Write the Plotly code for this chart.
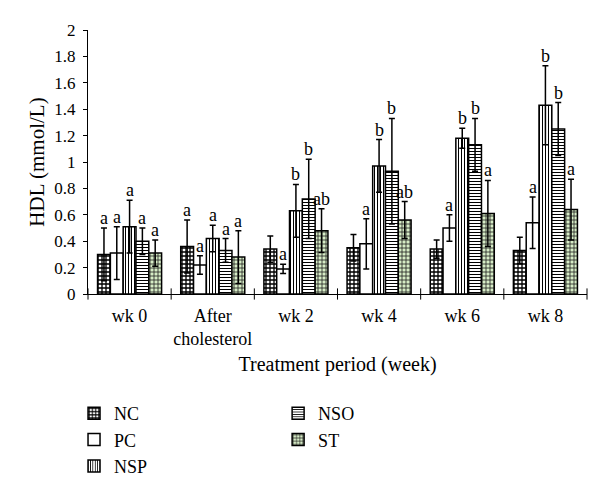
import plotly.graph_objects as go

categories = ["wk 0", "After<br>cholesterol", "wk 2", "wk 4", "wk 6", "wk 8"]
groups = ["NC", "PC", "NSP", "NSO", "ST"]

nc = [0.30, 0.36, 0.34, 0.35, 0.34, 0.33]
pc = [0.31, 0.22, 0.19, 0.38, 0.50, 0.54]
nsp = [0.51, 0.42, 0.63, 0.97, 1.18, 1.43]
nso = [0.40, 0.33, 0.72, 0.93, 1.13, 1.25]
st = [0.31, 0.28, 0.48, 0.56, 0.61, 0.64]

nc_sd = [0.20, 0.20, 0.10, 0.10, 0.07, 0.10]
pc_sd = [0.20, 0.07, 0.035, 0.19, 0.10, 0.195]
nsp_sd = [0.20, 0.10, 0.20, 0.20, 0.075, 0.30]
nso_sd = [0.10, 0.09, 0.30, 0.40, 0.20, 0.20]
st_sd = [0.10, 0.20, 0.165, 0.14, 0.25, 0.23]

nc_lbl = ["a", "a", "", "", "", ""]
pc_lbl = ["a", "a", "a", "a", "a", "a"]
nsp_lbl = ["a", "a", "b", "b", "b", "b"]
nso_lbl = ["a", "a", "b", "b", "b", "b"]
st_lbl = ["a", "a", "ab", "ab", "a", "a"]

values = [nc, pc, nsp, nso, st]
sds = [nc_sd, pc_sd, nsp_sd, nso_sd, st_sd]
labels = [nc_lbl, pc_lbl, nsp_lbl, nso_lbl, st_lbl]

patterns = [
    dict(shape="+", fgcolor="black", bgcolor="white", size=4, solidity=0.55, fillmode="replace"),
    dict(shape="", fgcolor="black", bgcolor="white"),
    dict(shape="|", fgcolor="black", bgcolor="white", size=3, solidity=0.35, fillmode="replace"),
    dict(shape="-", fgcolor="black", bgcolor="white", size=3, solidity=0.35, fillmode="replace"),
    dict(shape="+", fgcolor="#1a1a1a", bgcolor="#d6ecc6", size=4, solidity=0.35, fillmode="replace"),
]
legend_ids = ["legend", "legend", "legend", "legend2", "legend2"]

SERIF = "Liberation Serif"
bargap = 0.23
n = len(groups)
bw = (1 - bargap) / n

fig = go.Figure()
xs = list(range(len(categories)))
for j, g in enumerate(groups):
    fig.add_trace(go.Bar(
        x=xs, y=values[j], name=g,
        marker=dict(color="white", line=dict(color="black", width=1.5), pattern=patterns[j]),
        error_y=dict(type="data", array=sds[j], color="black", thickness=1.5, width=3),
        legend=legend_ids[j],
    ))
    for i in xs:
        if labels[j][i]:
            fig.add_annotation(
                x=i + (j - (n - 1) / 2) * bw, y=values[j][i] + sds[j][i],
                text=labels[j][i], showarrow=False, yanchor="bottom", yshift=-2,
                font=dict(family=SERIF, size=18, color="black"),
            )

fig.update_layout(
    width=600, height=491,
    margin=dict(l=80, r=21, t=22, b=205),
    paper_bgcolor="white", plot_bgcolor="white",
    barmode="group", bargap=bargap, bargroupgap=0,
    font=dict(family=SERIF, size=15, color="black"),
    legend=dict(x=-0.028, xref="paper", y=1 - 387 / 491, yref="container",
                xanchor="left", yanchor="top", orientation="v",
                font=dict(family=SERIF, size=18), tracegroupgap=0, itemwidth=30),
    legend2=dict(x=0.381, xref="paper", y=1 - 387 / 491, yref="container",
                 xanchor="left", yanchor="top", orientation="v",
                 font=dict(family=SERIF, size=18), tracegroupgap=0, itemwidth=30),
)
fig.update_xaxes(
    tickvals=xs, ticktext=categories, range=[-0.5, len(categories) - 0.5],
    showline=True, linecolor="black", linewidth=1, ticks="outside", ticklen=5,
    tickcolor="rgba(0,0,0,0)", showgrid=False, zeroline=False,
    tickfont=dict(family=SERIF, size=18), automargin=False,
    title=dict(text="Treatment period (week)", font=dict(family=SERIF, size=20), standoff=8),
)
fig.update_yaxes(
    range=[0, 2], dtick=0.2, showline=True, linecolor="black", linewidth=1,
    ticks="outside", ticklen=4, tickcolor="black", showgrid=False, zeroline=False,
    tickfont=dict(family=SERIF, size=17), automargin=False, ticklabelstandoff=4,
    title=dict(text="HDL (mmol/L)", font=dict(family=SERIF, size=21), standoff=3),
)
# category boundary ticks
fig.add_trace(go.Scatter(x=[i - 0.5 for i in range(len(categories) + 1)], y=[0] * (len(categories) + 1),
                         mode="markers", marker=dict(symbol="line-ns", size=8, line=dict(color="black", width=1)),
                         showlegend=False, hoverinfo="skip", cliponaxis=False))
fig.write_html("out.html")
